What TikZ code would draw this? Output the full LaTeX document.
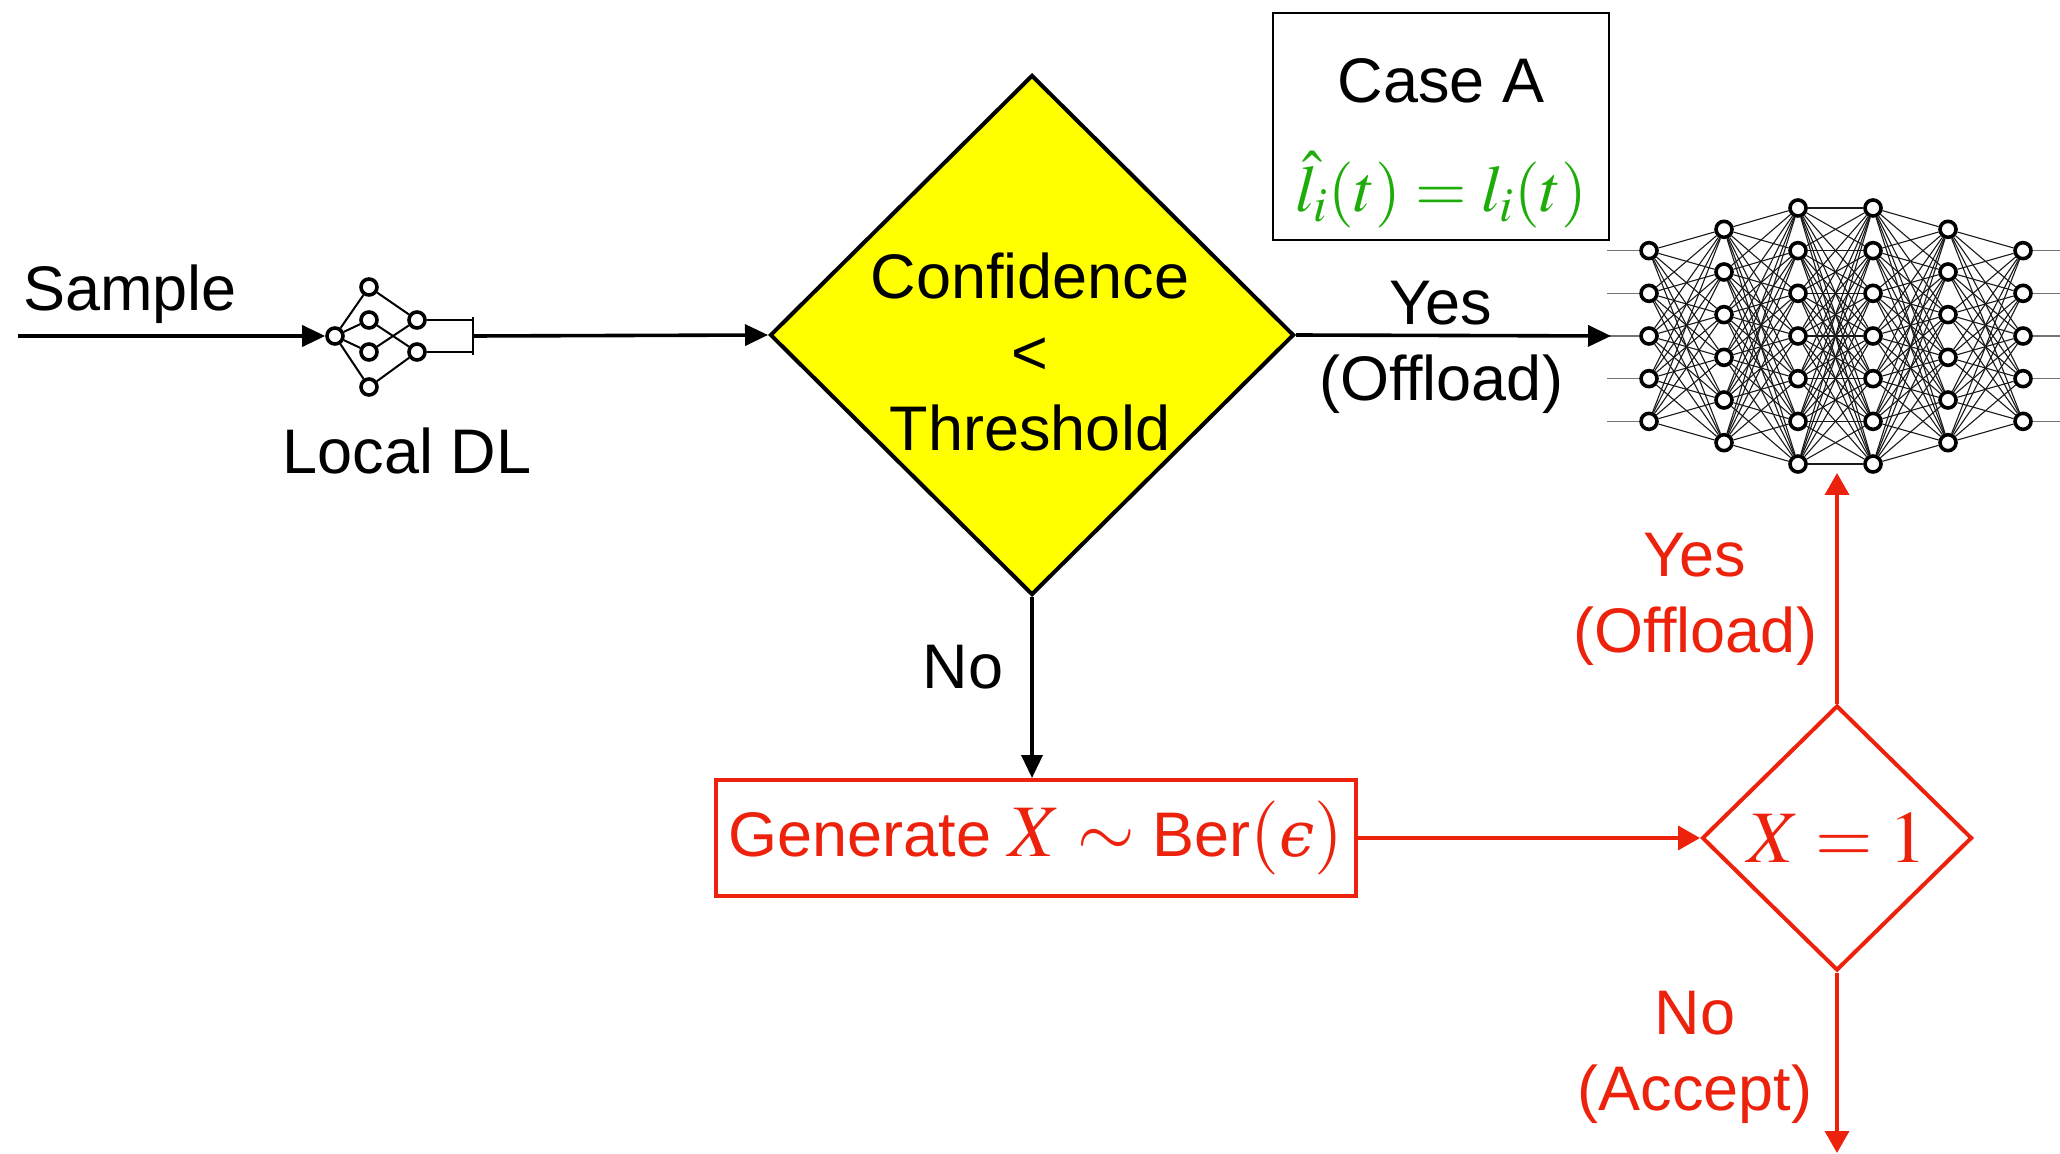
\documentclass[tikz,border=0pt]{standalone}
\usepackage{mathptmx}
\usepackage[no-math]{fontspec}
\setmainfont{Liberation Sans}
\newfontfamily\epsfont[Scale=0.85]{DejaVu Serif}
\usetikzlibrary{arrows.meta,shapes.geometric}
\definecolor{flowred}{RGB}{237,34,13}
\definecolor{eqgreen}{RGB}{30,172,10}
\definecolor{decyellow}{RGB}{255,255,0}
\pgfdeclarelayer{wires}
\pgfsetlayers{wires,main}
\newcommand\bigmathsize{\fontsize{37}{40}\selectfont}
% lunate epsilon set as a text glyph in a serif italic
\newcommand\epsglyph{{\epsfont\itshape ϵ}}
\begin{document}
\begin{tikzpicture}[x=0.5pt,y=-0.5pt,
  every node/.style={font=\fontsize{31.5}{38}\selectfont, inner sep=0pt},
  neuron/.style={circle, draw=black, line width=1.8pt, fill=white, minimum size=8pt},
  synapse/.style={draw=black!90, line width=0.55pt},
  stub/.style={draw=black!55, line width=0.6pt},
  smallwire/.style={draw=black, line width=1pt},
  flow/.style={draw=black, line width=1.8pt, -{Triangle[length=11.5pt,width=10.5pt]}},
  redflow/.style={draw=flowred, line width=1.8pt, -{Triangle[length=11pt,width=12pt]}},
  label/.style={align=center},
  redlabel/.style={align=center, text=flowred}
]
\useasboundingbox (0,0) rectangle (2060,1154);

% ---- input sample and the small local network ----
\coordinate (src) at (18,336);
\node[neuron] (s0) at (335,336) {};
\node[neuron] (s11) at (369,287) {};
\node[neuron] (s12) at (369,320) {};
\node[neuron] (s13) at (369,352) {};
\node[neuron] (s14) at (369,387) {};
\node[neuron] (s21) at (417,320) {};
\node[neuron] (s22) at (417,352) {};
\coordinate (bt) at (473,317);
\coordinate (bb) at (473,355);
\coordinate (bm) at (473,336);
\begin{pgfonlayer}{wires}
  \foreach \t in {s11,s12,s13,s14} \draw[smallwire] (s0) -- (\t);
  \draw[smallwire] (s11) -- (s21);
  \draw[smallwire] (s12) -- (s22);
  \draw[smallwire] (s13) -- (s21);
  \draw[smallwire] (s14) -- (s22);
  \draw[smallwire] (s21) -- (s21 -| bt);
  \draw[smallwire] (s22) -- (s22 -| bb);
  \draw[smallwire] (bt) -- (bb);
\end{pgfonlayer}
\draw[flow] (src) -- (s0);
\node (sample) at (130,294) {Sample};
\node (localdl) at (407,451) {Local DL};

% ---- confidence test ----
\node[diamond, draw=black, fill=decyellow, line width=2pt,
      minimum width=262pt, minimum height=260pt] (conf) at (1032,335) {};
\node[label] (conftext) at (1030,352) {Confidence\\<\\Threshold};
\draw[flow] (bm) -- (conf.west);

% ---- remote network ----
\foreach \L/\x/\cnt in {1/1649/5,2/1724/6,3/1798/7,4/1873/7,5/1948/6,6/2023/5} {
  \foreach \k in {1,...,\cnt} {
    \node[neuron] (n\L-\k) at (\x,{336+(\k-(\cnt+1)/2)*42.67}) {};
  }
}
\begin{pgfonlayer}{wires}
  \foreach \L/\M/\a/\b in {1/2/5/6,2/3/6/7,3/4/7/7,4/5/7/6,5/6/6/5} {
    \foreach \i in {1,...,\a} {
      \foreach \j in {1,...,\b} {
        \draw[synapse] (n\L-\i) -- (n\M-\j);
      }
    }
  }
  \foreach \k in {1,...,5} {
    \draw[stub] (n1-\k) -- (1607,{336+(\k-3)*42.67});
    \draw[stub] (n6-\k) -- (2075,{336+(\k-3)*42.67});
  }
\end{pgfonlayer}
\coordinate (netin) at (1611,336);
\draw[flow] (conf.east) -- (netin);
\node[label] (yesoff) at (1441,347) {Yes\\(Offload)};

% ---- case box ----
\node[draw=black, line width=1.4pt, minimum width=168pt, minimum height=113.5pt] (casebox) at (1441,126.5) {};
\node (casetitle) at (1441,81) {Case A};
\node[text=eqgreen, font=\fontsize{33}{36}\selectfont] (caseeq) at (1441,190) {$\hat{l}_i(t)=l_i(t)$};

% ---- random offloading branch ----
\node[draw=flowred, line width=2pt, minimum width=320pt, minimum height=58pt, text=flowred]
  (gen) at (1036,838) {Generate {\bigmathsize$X\sim$} Ber{\bigmathsize$(\mbox{\epsglyph})$}};
\draw[flow] (conf.south) -- (conf.south |- gen.north);
\node (no) at (963,667) {No};

\node[diamond, draw=flowred, line width=2pt, minimum width=135pt, minimum height=132.5pt,
      text=flowred, font=\bigmathsize] (xdec) at (1837,838) {$X=1$};
\draw[redflow] (gen.east) -- (xdec.west);

\coordinate (netbottom) at (1837,473);
\draw[redflow] (xdec.north) -- (netbottom);
\node[redlabel] (yesred) at (1695,599) {Yes\\(Offload)};

\coordinate (accept) at (1837,1153);
\draw[redflow] (xdec.south) -- (accept);
\node[redlabel] (nored) at (1695,1057) {No\\(Accept)};
\end{tikzpicture}
\end{document}
